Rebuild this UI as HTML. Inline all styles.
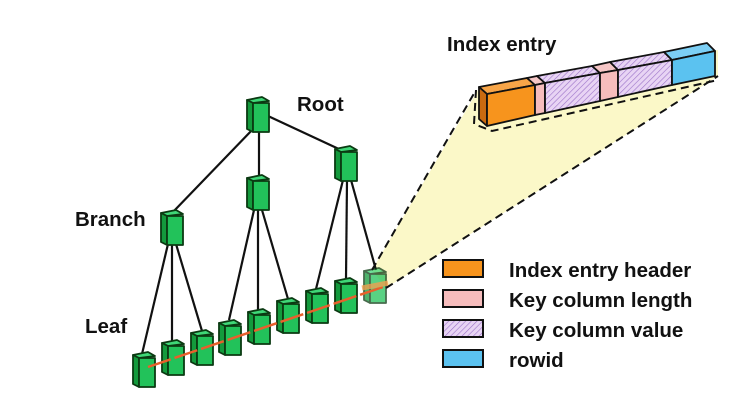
<!DOCTYPE html>
<html><head><meta charset="utf-8"><style>
html,body{margin:0;padding:0;background:#fff;}
svg{display:block;}
text{font-family:"Liberation Sans",sans-serif;font-weight:bold;font-size:20.5px;fill:#111;}
</style></head><body>
<svg width="748" height="415" viewBox="0 0 748 415" xmlns="http://www.w3.org/2000/svg">
<defs>
<pattern id="hatch" width="4" height="4" patternUnits="userSpaceOnUse" patternTransform="rotate(45)">
<rect width="4" height="4" fill="#e8d4f4"/><line x1="0" y1="0" x2="0" y2="4" stroke="#9b72c8" stroke-width="1.2"/>
</pattern>
<g id="node" stroke="#0b3a12" stroke-width="1.8" stroke-linejoin="round">
<polygon points="0,3 15,0 22,4 6,6" fill="#3fd777"/>
<polygon points="0,3 6,6 6,35 0,32" fill="#139a3c"/>
<rect x="6" y="6" width="16" height="29" fill="#22c25a"/>
</g>
</defs>
<polygon points="372,270 478,90 718,50 718,76 386,288" fill="#fbf8c8"/>
<g stroke="#111" stroke-width="2.2" fill="none">
<line x1="254" y1="128" x2="172" y2="213"/>
<line x1="259" y1="130" x2="259" y2="178"/>
<line x1="268" y1="116" x2="341" y2="150"/>
<line x1="168" y1="244" x2="142" y2="354"/>
<line x1="172" y1="244" x2="172" y2="342"/>
<line x1="176" y1="244" x2="202" y2="331"/>
<line x1="254" y1="210" x2="229" y2="320"/>
<line x1="258" y1="210" x2="258" y2="310"/>
<line x1="262" y1="210" x2="288" y2="299"/>
<line x1="343" y1="180" x2="316" y2="289"/>
<line x1="347" y1="180" x2="346" y2="279"/>
<line x1="351" y1="180" x2="376" y2="270"/>
</g>
<use href="#node" x="247" y="97"/>
<use href="#node" x="335" y="146"/>
<use href="#node" x="247" y="175"/>
<use href="#node" x="161" y="210"/>
<use href="#node" x="133" y="352"/>
<use href="#node" x="162" y="340"/>
<use href="#node" x="191" y="330"/>
<use href="#node" x="219" y="320"/>
<use href="#node" x="248" y="309"/>
<use href="#node" x="277" y="298"/>
<use href="#node" x="306" y="288"/>
<use href="#node" x="335" y="278"/>
<g opacity="0.75"><use href="#node" x="364" y="268"/></g>
<line x1="148" y1="367" x2="386" y2="286" stroke="#e8602c" stroke-width="2.5" stroke-dasharray="24,4"/>
<line x1="362" y1="288" x2="388" y2="283" stroke="#f0a050" stroke-width="5" opacity="0.8"/>
<g stroke="#111" stroke-width="2" stroke-dasharray="8,5" fill="none">
<line x1="372" y1="270" x2="476" y2="90"/>
<line x1="386" y1="288" x2="718" y2="76"/>
<polyline points="476,90 474,124 492,131 718,80"/>
</g>
<g stroke="#111" stroke-width="1.8" stroke-linejoin="round">
<polygon points="479,87 527,78 535,85 487,94" fill="#f7a548"/>
<polygon points="527,78 537,76 545,83 535,85" fill="#f6c6c6"/>
<polygon points="537,76 592,66 600,73 545,83" fill="url(#hatch)"/>
<polygon points="592,66 610,62 618,70 600,73" fill="#f6c6c6"/>
<polygon points="610,62 664,52 672,60 618,70" fill="url(#hatch)"/>
<polygon points="664,52 707,43 715,51 672,60" fill="#7ccff5"/>
<polygon points="479,87 487,94 487,126 479,119" fill="#c96a10"/>
<polygon points="487,94 535,85 535,115 487,126" fill="#f7941d"/>
<polygon points="535,85 545,83 545,113 535,115" fill="#f6bcbc"/>
<polygon points="545,83 600,73 600,101 545,113" fill="url(#hatch)"/>
<polygon points="600,73 618,70 618,97 600,101" fill="#f6bcbc"/>
<polygon points="618,70 672,60 672,85 618,97" fill="url(#hatch)"/>
<polygon points="672,60 715,51 715,76 672,85" fill="#5bc2f0"/>
</g>
<g stroke="#111" stroke-width="2">
<rect x="443" y="260" width="40" height="17" fill="#f7941d"/>
<rect x="443" y="290" width="40" height="17" fill="#f6bcbc"/>
<rect x="443" y="320" width="40" height="17" fill="url(#hatch)"/>
<rect x="443" y="350" width="40" height="17" fill="#5bc2f0"/>
</g>
<text x="509" y="277">Index entry header</text>
<text x="509" y="307">Key column length</text>
<text x="509" y="337">Key column value</text>
<text x="509" y="367">rowid</text>
<text x="297" y="111">Root</text>
<text x="75" y="226">Branch</text>
<text x="85" y="333">Leaf</text>
<text x="447" y="51">Index entry</text>
</svg>
</body></html>
